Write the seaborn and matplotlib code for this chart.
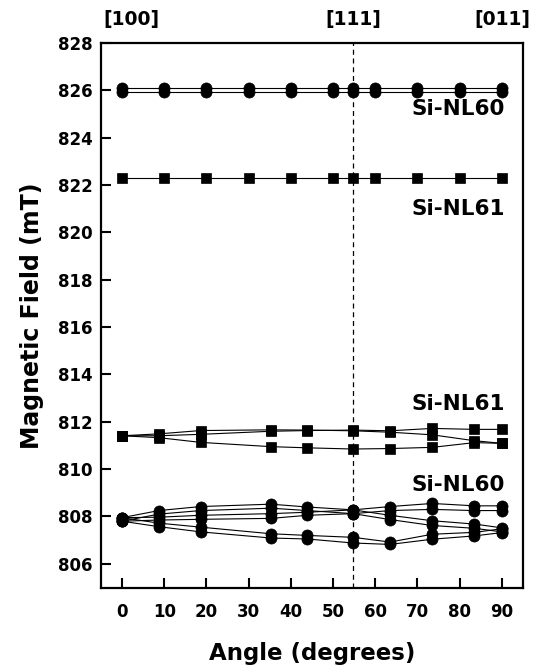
import numpy as np
import pandas as pd
import matplotlib
matplotlib.use("Agg")
import matplotlib.pyplot as plt
import seaborn as sns

# ---------------- data ----------------
angles_a = [0, 10, 20, 30, 40, 50, 54.74, 60, 70, 80, 90]
angles_b = [0, 8.7, 18.6, 35.3, 43.9, 54.74, 63.5, 73.5, 83.5, 90]

nl60_top_1 = [826.08] * 11
nl60_top_2 = [825.91] * 11
nl61_top = [822.30] * 11

nl61_A = [811.41, 811.33, 811.13, 810.95, 810.90, 810.85, 810.87, 810.92, 811.12, 811.09]
nl61_B = [811.41, 811.49, 811.63, 811.66, 811.65, 811.62, 811.56, 811.45, 811.20, 811.09]
nl61_C = [811.41, 811.41, 811.47, 811.60, 811.63, 811.65, 811.62, 811.72, 811.68, 811.68]

nl60_A1 = [807.95, 807.72, 807.55, 807.27, 807.20, 807.12, 806.92, 807.25, 807.33, 807.48]
nl60_A2 = [807.80, 807.57, 807.35, 807.09, 807.05, 806.88, 806.82, 807.04, 807.18, 807.32]
nl60_B1 = [807.95, 808.25, 808.42, 808.52, 808.40, 808.28, 808.05, 807.82, 807.68, 807.52]
nl60_B2 = [807.80, 808.10, 808.25, 808.35, 808.25, 808.12, 807.87, 807.62, 807.50, 807.35]
nl60_C1 = [807.95, 807.97, 808.05, 808.12, 808.18, 808.28, 808.42, 808.55, 808.45, 808.45]
nl60_C2 = [807.80, 807.85, 807.88, 807.92, 808.05, 808.12, 808.25, 808.30, 808.25, 808.25]

x_ticks = [0, 10, 20, 30, 40, 50, 60, 70, 80, 90]
y_ticks = [806, 808, 810, 812, 814, 816, 818, 820, 822, 824, 826, 828]
dir_labels = ["[100]", "[111]", "[011]"]
dir_angles = [0, 54.74, 90]

series = [
    ("nl60_top_1", angles_a, nl60_top_1, "o"),
    ("nl60_top_2", angles_a, nl60_top_2, "o"),
    ("nl61_top", angles_a, nl61_top, "s"),
    ("nl61_A", angles_b, nl61_A, "s"),
    ("nl61_B", angles_b, nl61_B, "s"),
    ("nl61_C", angles_b, nl61_C, "s"),
    ("nl60_A1", angles_b, nl60_A1, "o"),
    ("nl60_A2", angles_b, nl60_A2, "o"),
    ("nl60_B1", angles_b, nl60_B1, "o"),
    ("nl60_B2", angles_b, nl60_B2, "o"),
    ("nl60_C1", angles_b, nl60_C1, "o"),
    ("nl60_C2", angles_b, nl60_C2, "o"),
]

# ---------------- plot ----------------
sns.set_style("ticks")
plt.rcParams["font.family"] = ["DejaVu Sans"]
plt.rcParams["font.weight"] = "bold"
for k in ["text.color", "axes.labelcolor", "xtick.color", "ytick.color", "axes.edgecolor"]:
    plt.rcParams[k] = "black"

fig = plt.figure(figsize=(5.40, 6.68), dpi=100)
ax = fig.add_axes([0.187, 0.1205, 0.7815, 0.8151])

for name, xs, ys, mk in series:
    df = pd.DataFrame({"angle": xs, "field": ys})
    sns.lineplot(data=df, x="angle", y="field", ax=ax, color="black",
                 linewidth=0.8, marker=mk, markersize=8 if mk == "o" else 7.2,
                 markeredgecolor="black", markeredgewidth=0.5,
                 estimator=None, sort=True)

ax.axvline(54.74, color="black", linestyle=(0, (4, 3)), linewidth=0.9, zorder=0)

ax.set_xlim(-5, 95)
ax.set_ylim(805, 828)
ax.set_xticks(x_ticks)
ax.set_yticks(y_ticks)
ax.tick_params(axis="both", direction="in", length=7, width=1.5,
               labelsize=12, top=False, right=False, colors="black")
ax.tick_params(axis="x", pad=11)
ax.tick_params(axis="y", pad=6)
for lab in ax.get_xticklabels() + ax.get_yticklabels():
    lab.set_fontweight("bold")
for sp in ax.spines.values():
    sp.set_linewidth(1.6)
    sp.set_color("black")

ax.set_xlabel("Angle (degrees)", fontsize=16.5, fontweight="bold", labelpad=15, color="black")
ax.set_ylabel("Magnetic Field (mT)", fontsize=17, fontweight="bold", labelpad=10, color="black")

for lab, a in zip(dir_labels, dir_angles):
    xx = a + 2.3 if a == 0 else a
    ax.text(xx, 1.025, lab, transform=ax.get_xaxis_transform(), ha="center",
            va="bottom", fontsize=13.5, fontweight="bold", color="black")

ax.text(90.8, 825.2, "Si-NL60", ha="right", va="center", fontsize=15.5, fontweight="bold", color="black")
ax.text(90.8, 821.0, "Si-NL61", ha="right", va="center", fontsize=15.5, fontweight="bold", color="black")
ax.text(90.8, 812.75, "Si-NL61", ha="right", va="center", fontsize=15.5, fontweight="bold", color="black")
ax.text(90.8, 809.34, "Si-NL60", ha="right", va="center", fontsize=15.5, fontweight="bold", color="black")

fig.savefig("out.png", dpi=100)
